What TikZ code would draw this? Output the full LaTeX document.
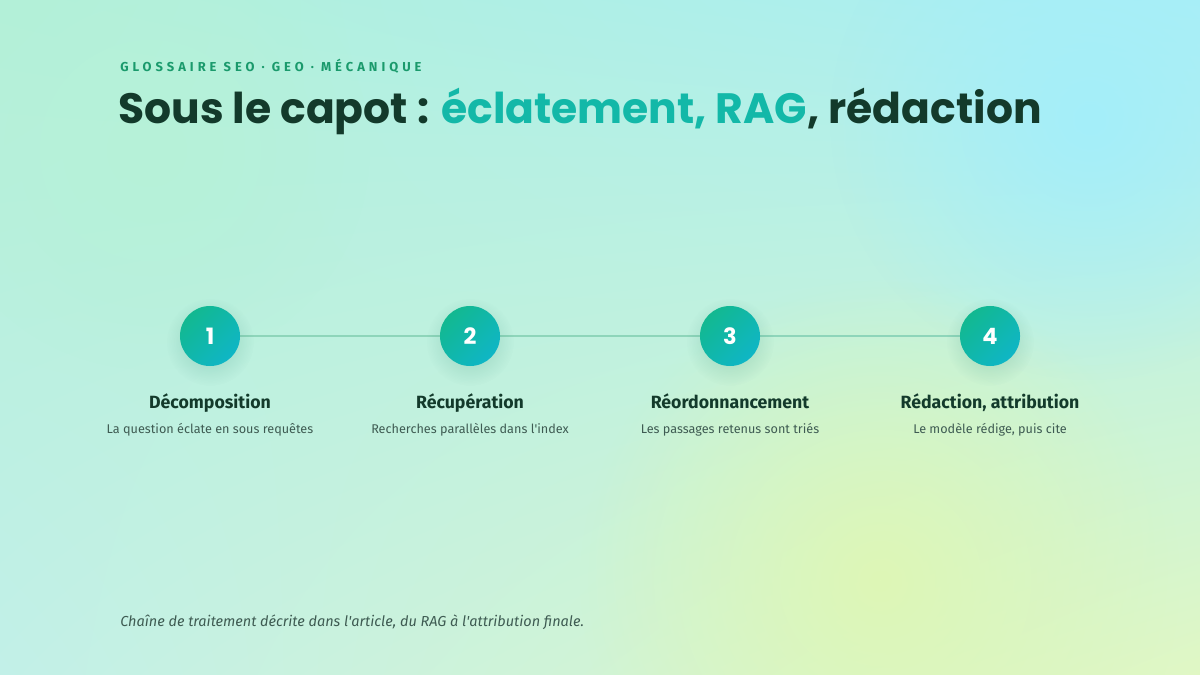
\documentclass[tikz,border=0pt]{standalone}
\usepackage{fontspec}
\setmainfont{Fira Sans}
\newfontfamily\headfont{Poppins}
\newfontfamily\kickfont{Fira Sans}[LetterSpace=31]
\usepackage{xcolor}
\usetikzlibrary{positioning,fadings,shadings}
\definecolor{inkgreen}{HTML}{133A2B}
\definecolor{kickgreen}{HTML}{1A9A6C}
\definecolor{tealA}{HTML}{12B890}
\definecolor{tealB}{HTML}{0FB6C6}
\definecolor{hitext}{HTML}{13B8A8}
\definecolor{desctext}{HTML}{3E5B52}
\definecolor{railgreen}{HTML}{8ED5BA}
\definecolor{bgmint}{HTML}{B3F0D8}
\definecolor{bgcyan}{HTML}{AAEEF6}
\definecolor{bgaqua}{HTML}{C2F0E8}
\definecolor{bglime}{HTML}{E0F7C4}
\definecolor{glowcyan}{HTML}{A4EEFA}
\definecolor{glowlime}{HTML}{DEF7B6}
\definecolor{glowmint}{HTML}{B6F2D8}
\tikzfading[name=glow, inner color=transparent!0, outer color=transparent!100]
\tikzset{
	stepdot/.style={circle, minimum size=1.5cm, inner sep=0, text=white,
		top color=tealA, bottom color=tealB, shading angle=45,
		font=\headfont\bfseries\fontsize{16}{16}\selectfont},
	steptitle/.style={anchor=base, inner sep=0, text=inkgreen,
		font=\bfseries\fontsize{12.6}{14}\selectfont},
	stepdesc/.style={anchor=base, inner sep=0, text=desctext,
		font=\fontsize{9}{11}\selectfont}
}
\begin{document}
\begin{tikzpicture}[x=0.025cm, y=-0.025cm]
	\useasboundingbox (0,0) rectangle (1200,675);
	\shade[upper left=bgmint, upper right=bgcyan, lower left=bgaqua, lower right=bglime]
		(0,0) rectangle (1200,675);
	\fill[glowcyan, path fading=glow] (1090,120) circle (260);
	\fill[glowlime, path fading=glow] (880,580) circle (300);
	\fill[glowmint, path fading=glow] (150,150) circle (220);

	\node[anchor=base west, inner sep=0, text=kickgreen, font=\kickfont\bfseries\fontsize{9.2}{10}\selectfont]
		(kicker) at (120,72) {GLOSSAIRE SEO · GEO · MÉCANIQUE};
	\node[anchor=base west, inner sep=0, text=inkgreen, font=\headfont\bfseries\fontsize{30.2}{34}\selectfont]
		(headline) at (118,124) {Sous le capot : \textcolor{hitext}{éclatement, RAG}, rédaction};

	\coordinate (railstart) at (210,336);
	\coordinate (railend) at (990,336);
	\draw[railgreen, line width=1.6pt] (railstart) -- (railend);

	\foreach \n/\x/\t/\d in {1/210/Décomposition/La question éclate en sous requêtes,
		2/470/Récupération/Recherches parallèles dans l\textquotesingle index,
		3/730/Réordonnancement/Les passages retenus sont triés,
		4/990/{Rédaction, attribution}/{Le modèle rédige, puis cite}} {
		\fill[tealA!60!black, opacity=0.25, path fading=glow] (\x,342) circle (44);
		\node[stepdot] (dot\n) at (\x,336) {\n};
		\node[steptitle] (title\n) at (\x,408) {\t};
		\node[stepdesc] (desc\n) at (\x,433) {\d};
	};

	\node[anchor=base west, inner sep=0, text=desctext, font=\itshape\fontsize{10.3}{12}\selectfont]
		(footer) at (120,626) {Chaîne de traitement décrite dans l\textquotesingle article, du RAG à l\textquotesingle attribution finale.};
\end{tikzpicture}
\end{document}
